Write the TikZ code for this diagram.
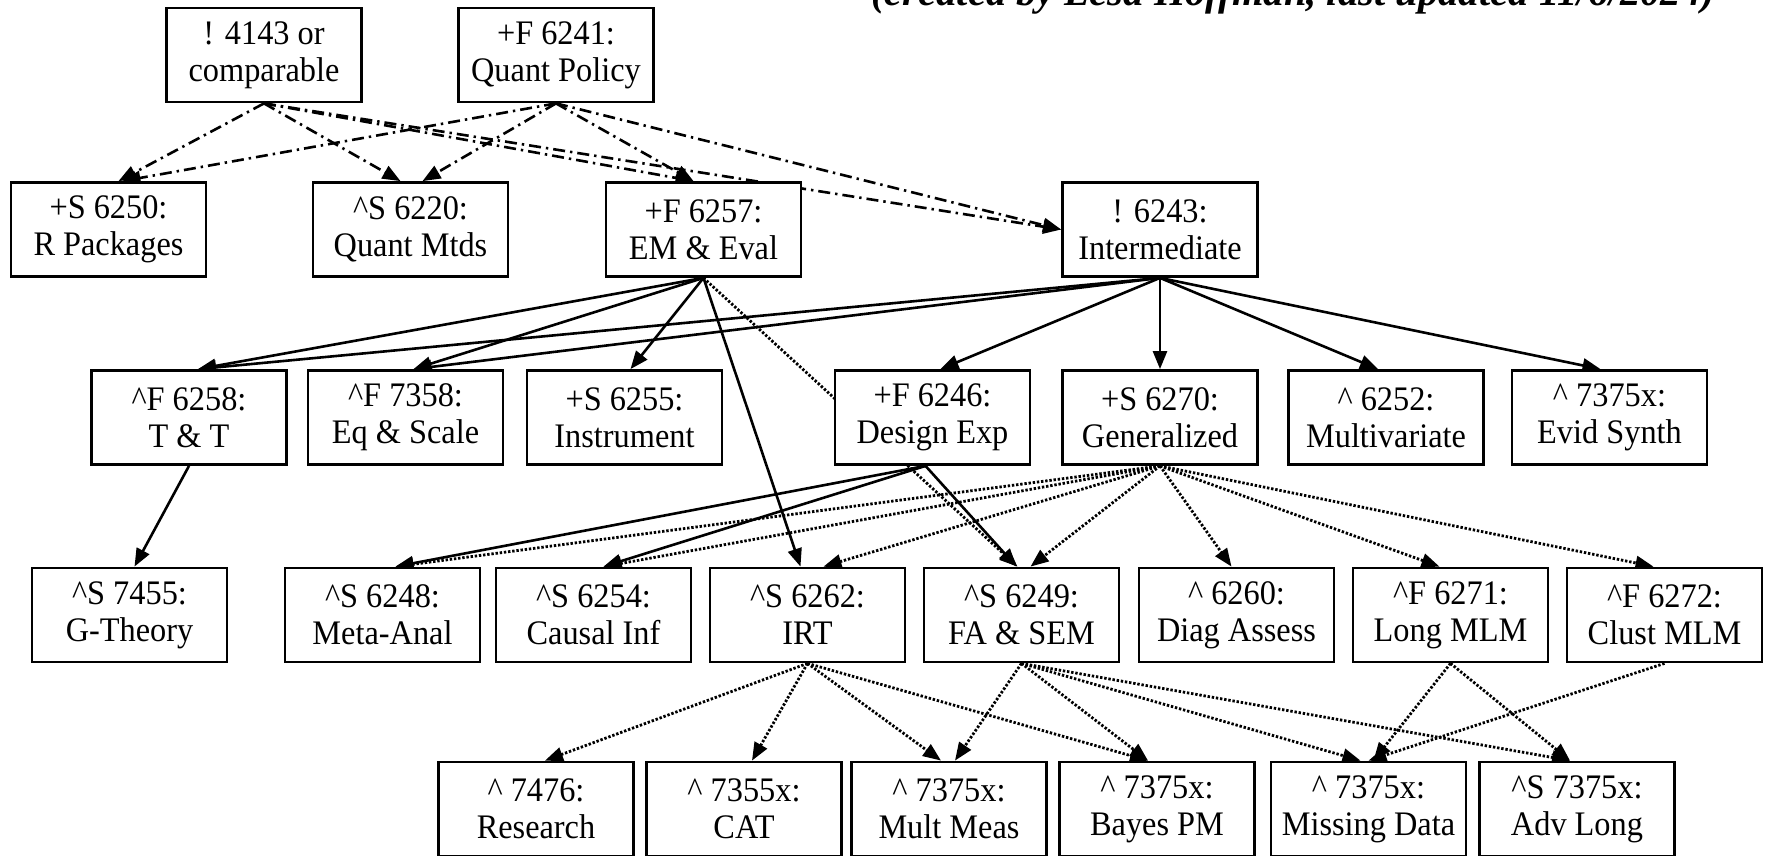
\documentclass[tikz,border=0pt]{standalone}
\usepackage{fontspec}
\setmainfont{Liberation Serif}[FakeStretch=0.94]
\newfontfamily\titlefont{Liberation Serif}
\usetikzlibrary{arrows.meta,calc}
\pgfdeclarelayer{bg}
\pgfsetlayers{bg,main}
\tikzset{
  box/.style={draw, line width=1.4pt, fill=white, minimum width=97.5pt, minimum height=47pt,
    inner sep=0pt, align=center, font=\fontsize{17.2}{18.5}\selectfont},
  edge/.style={line width=1.3pt, -{Triangle[length=9pt,width=7pt]}},
  solidedge/.style={edge},
  dotedge/.style={edge, line width=1.4pt, dash pattern=on 1.2pt off 0.9pt},
  dashdotedge/.style={edge, dash pattern=on 6pt off 2.5pt on 1.2pt off 2.5pt},
}
\begin{document}
\begin{tikzpicture}[x=0.5pt,y=-0.5pt]
\useasboundingbox (0,0) rectangle (1769,856);
\node[anchor=base east, font=\titlefont\bfseries\itshape\fontsize{20.3}{22}\selectfont] (title) at (1722,6) {(created by Lesa Hoffman, last updated 11/6/2024)};
% row 0
\node[box] (a4143) at (264,55) {! 4143 or\\comparable};
\node[box] (a6241) at (556,55) {+F 6241:\\Quant Policy};
% row 1
\node[box] (a6250) at (108.5,229.5) {+S 6250:\\R Packages};
\node[box] (a6220) at (410.5,229.5) {\textasciicircum S 6220:\\Quant Mtds};
\node[box] (a6257) at (703.5,229.5) {+F 6257:\\EM \& Eval};
\node[box] (a6243) at (1160,229.5) {! 6243:\\Intermediate};
% row 2
\node[box] (a6258) at (189,417.5) {\textasciicircum F 6258:\\T \& T};
\node[box] (a7358) at (405.5,417.5) {\textasciicircum F 7358:\\Eq \& Scale};
\node[box] (a6255) at (624.5,417.5) {+S 6255:\\Instrument};
\node[box] (a6246) at (932.5,417.5) {+F 6246:\\Design Exp};
\node[box] (a6270) at (1160,417.5) {+S 6270:\\Generalized};
\node[box] (a6252) at (1386,417.5) {\textasciicircum\ 6252:\\Multivariate};
\node[box] (a7375e) at (1609.5,417.5) {\textasciicircum\ 7375x:\\Evid Synth};
% row 3
\node[box] (a7455) at (129.5,615) {\textasciicircum S 7455:\\G-Theory};
\node[box] (a6248) at (382.5,615) {\textasciicircum S 6248:\\Meta-Anal};
\node[box] (a6254) at (593.5,615) {\textasciicircum S 6254:\\Causal Inf};
\node[box] (a6262) at (807.5,615) {\textasciicircum S 6262:\\IRT};
\node[box] (a6249) at (1021.5,615) {\textasciicircum S 6249:\\FA \& SEM};
\node[box] (a6260) at (1236.5,615) {\textasciicircum\ 6260:\\Diag Assess};
\node[box] (a6271) at (1450.5,615) {\textasciicircum F 6271:\\Long MLM};
\node[box] (a6272) at (1664.5,615) {\textasciicircum F 6272:\\Clust MLM};
% row 4
\node[box] (a7476) at (536,809) {\textasciicircum\ 7476:\\Research};
\node[box] (a7355) at (744,809) {\textasciicircum\ 7355x:\\CAT};
\node[box] (aMult) at (949,809) {\textasciicircum\ 7375x:\\Mult Meas};
\node[box] (aBayes) at (1157,809) {\textasciicircum\ 7375x:\\Bayes PM};
\node[box] (aMiss) at (1368.5,809) {\textasciicircum\ 7375x:\\Missing Data};
\node[box] (aAdv) at (1577,809) {\textasciicircum S 7375x:\\Adv Long};

\begin{pgfonlayer}{bg}
% dash-dot from top row
\draw[dashdotedge] (a4143.south) -- ($(a6250.north)+(10,0)$);
\draw[dashdotedge] (a4143.south) -- ($(a6220.north)+(-10,0)$);
\draw[dashdotedge] (a4143.south) -- ($(a6257.north)+(-10,0)$);
\draw[dashdotedge] (a4143.south) -- (a6243.west);
\draw[dashdotedge] (a6241.south) -- ($(a6250.north)+(14,0)$);
\draw[dashdotedge] (a6241.south) -- ($(a6220.north)+(12,0)$);
\draw[dashdotedge] (a6241.south) -- ($(a6257.north)+(-10,0)$);
\draw[dashdotedge] (a6241.south) -- (a6243.west);
% from 6257
\draw[solidedge] (a6257.south) -- ($(a6258.north)+(9,0)$);
\draw[solidedge] (a6257.south) -- ($(a7358.north)+(8,0)$);
\draw[solidedge] (a6257.south) -- ($(a6255.north)+(6,0)$);
\draw[solidedge] (a6257.south) -- ($(a6262.north)+(-7,0)$);
\draw[dotedge] (a6257.south) -- ($(a6249.north)+(-4,0)$);
% from 6243
\draw[solidedge] (a6243.south) -- ($(a6258.north)+(9,0)$);
\draw[solidedge] (a6243.south) -- ($(a7358.north)+(8,0)$);
\draw[solidedge] (a6243.south) -- ($(a6246.north)+(8,0)$);
\draw[solidedge] (a6243.south) -- (a6270.north);
\draw[solidedge] (a6243.south) -- ($(a6252.north)+(-8,0)$);
\draw[solidedge] (a6243.south) -- ($(a7375e.north)+(-9,0)$);
% from 6258
\draw[solidedge] (a6258.south) -- ($(a7455.north)+(5,0)$);
% from 6246
\draw[solidedge] ($(a6246.south)+(-7,0)$) -- ($(a6248.north)+(13,0)$);
\draw[solidedge] ($(a6246.south)+(-7,0)$) -- ($(a6254.north)+(10,0)$);
\draw[solidedge] ($(a6246.south)+(-7,0)$) -- ($(a6249.north)+(-5,0)$);
% from 6270
\draw[dotedge] (a6270.south) -- ($(a6248.north)+(13,0)$);
\draw[dotedge] (a6270.south) -- ($(a6254.north)+(10,0)$);
\draw[dotedge] (a6270.south) -- ($(a6262.north)+(16,0)$);
\draw[dotedge] (a6270.south) -- ($(a6249.north)+(9,0)$);
\draw[dotedge] (a6270.south) -- ($(a6260.north)+(-5,0)$);
\draw[dotedge] (a6270.south) -- ($(a6271.north)+(-11,0)$);
\draw[dotedge] (a6270.south) -- ($(a6272.north)+(-11,0)$);
% from 6262
\draw[dotedge] (a6262.south) -- ($(a7476.north)+(9,0)$);
\draw[dotedge] (a6262.south) -- ($(a7355.north)+(8,0)$);
\draw[dotedge] (a6262.south) -- ($(aMult.north)+(-8,0)$);
\draw[dotedge] (a6262.south) -- ($(aBayes.north)+(-9,0)$);
% from 6249
\draw[dotedge] (a6249.south) -- ($(aMult.north)+(6,0)$);
\draw[dotedge] (a6249.south) -- ($(aBayes.north)+(-9,0)$);
\draw[dotedge] (a6249.south) -- ($(aMiss.north)+(-8,0)$);
\draw[dotedge] (a6249.south) -- ($(aAdv.north)+(-7,0)$);
% from 6271, 6272
\draw[dotedge] (a6271.south) -- ($(aMiss.north)+(5,0)$);
\draw[dotedge] (a6271.south) -- ($(aAdv.north)+(-7,0)$);
\draw[dotedge] (a6272.south) -- (aMiss.north);
\end{pgfonlayer}
\end{tikzpicture}
\end{document}
